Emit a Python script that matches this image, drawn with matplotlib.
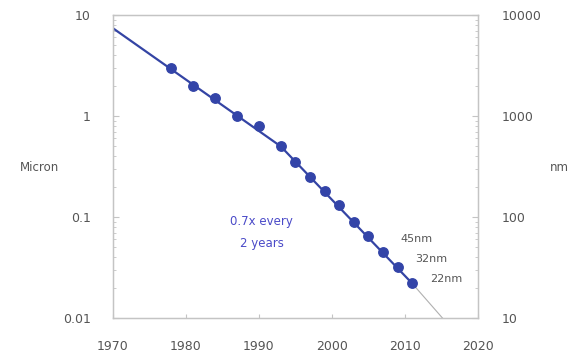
import numpy as np
import matplotlib.pyplot as plt
from matplotlib.ticker import FixedLocator, NullFormatter, LogLocator

# ── data ─────────────────────────────────────────────────────────────────────
node_years = [1978, 1981, 1984, 1987, 1990, 1993, 1995, 1997, 1999,
              2001, 2003, 2005, 2007, 2009, 2011]
node_micron = [3.0, 2.0, 1.5, 1.0, 0.8, 0.5, 0.35, 0.25, 0.18,
               0.13, 0.09, 0.065, 0.045, 0.032, 0.022]

trend_years = [1970, 1993, 2011]
trend_micron = [7.4, 0.5, 0.022]

extrap_years = [2011, 2016]
extrap_micron = [0.022, 0.0085]

left_ticks = [10, 1, 0.1, 0.01]
left_labels = ["10", "1", "0.1", "0.01"]
right_ticks = [10000, 1000, 100, 10]
right_labels = ["10000", "1000", "100", "10"]
x_ticks = [1970, 1980, 1990, 2000, 2010, 2020]

notes = ["45nm", "32nm", "22nm"]
note_pos = [(2009.4, 0.061), (2011.4, 0.0387), (2013.4, 0.0244)]

# ── figure ────────────────────────────────────────────────────────────────────
fig = plt.figure(figsize=(5.73, 3.54), dpi=100)
ax = fig.add_axes([0.197, 0.1017, 0.637, 0.856])

spine_col = "#c4c4c4"
text_col = "#555555"
blue = "#3344a8"

ax.plot(trend_years, trend_micron, color="#3444a4", lw=1.6, zorder=2)
ax.plot(extrap_years, extrap_micron, color="#b0b0b0", lw=0.8, zorder=1)
ax.plot(node_years, node_micron, "o", color=blue, ms=6.8, mec=blue, zorder=3)

ax.set_yscale("log")
ax.set_xlim(1970, 2020)
ax.set_ylim(0.01, 10)

ax.set_xticks(x_ticks)
ax.set_xticklabels([str(y) for y in x_ticks])
ax.yaxis.set_major_locator(FixedLocator(left_ticks))
ax.set_yticklabels(left_labels)
ax.yaxis.set_minor_locator(LogLocator(base=10, subs=np.arange(2, 10)))
ax.yaxis.set_minor_formatter(NullFormatter())

for s in ax.spines.values():
    s.set_color(spine_col)
    s.set_linewidth(1.0)

ax.tick_params(axis="x", direction="in", length=3, color=spine_col,
               labelsize=9, labelcolor=text_col, pad=16)
ax.tick_params(axis="y", which="major", direction="in", length=4, color=spine_col,
               labelsize=9, labelcolor=text_col, pad=16)
ax.tick_params(axis="y", which="minor", direction="in", length=2, color=spine_col)

ax2 = ax.twinx()
ax2.set_yscale("log")
ax2.set_ylim(10, 10000)
ax2.yaxis.set_major_locator(FixedLocator(right_ticks))
ax2.set_yticklabels(right_labels)
ax2.yaxis.set_minor_locator(LogLocator(base=10, subs=np.arange(2, 10)))
ax2.yaxis.set_minor_formatter(NullFormatter())
ax2.tick_params(axis="y", which="major", direction="in", length=4, color=spine_col,
                labelsize=9, labelcolor=text_col, pad=17)
ax2.tick_params(axis="y", which="minor", direction="in", length=2, color=spine_col)
for s in ax2.spines.values():
    s.set_color(spine_col)

fig.text(0.035, 0.528, "Micron", fontsize=8.5, color=text_col, va="center")
fig.text(0.96, 0.528, "nm", fontsize=8.5, color=text_col, va="center")

ax.text(1990.4, 0.07, "0.7x every\n2 years", color="#4a4ac8", fontsize=8.5,
        ha="center", va="center", linespacing=1.9)
for label, (x, y) in zip(notes, note_pos):
    ax.text(x, y, label, color=text_col, fontsize=8, ha="left", va="center")

fig.savefig("out.png", dpi=100)
